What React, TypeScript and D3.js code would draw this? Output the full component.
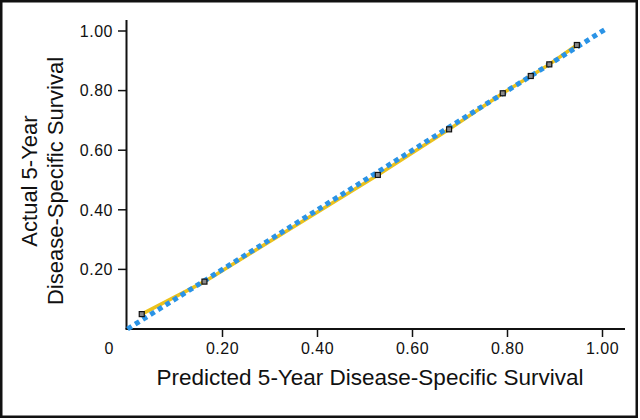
import React from "react";
import * as d3 from "d3";

const predicted = [0.03, 0.162, 0.527, 0.677, 0.79, 0.849, 0.888, 0.946];
const actual = [0.05, 0.159, 0.517, 0.67, 0.791, 0.849, 0.888, 0.953];
const tickValues = [0.2, 0.4, 0.6, 0.8, 1.0];
const refLine = [0, 1.01];
const xTitle = "Predicted 5-Year Disease-Specific Survival";
const yTitle = ["Actual 5-Year", "Disease-Specific Survival"];

const W = 640;
const H = 420;
const FONT = "'Liberation Sans', Arial, Helvetica, sans-serif";

export default function App() {
  const x = d3.scaleLinear().domain([0, 1]).range([127.5, 602.5]);
  const y = d3.scaleLinear().domain([0, 1]).range([329, 31]);
  const pts = predicted.map((p, i) => [p, actual[i]] as [number, number]);
  const line = d3
    .line<[number, number]>()
    .x((d) => x(d[0]))
    .y((d) => y(d[1]));
  const ref = refLine.map((v) => [v, v] as [number, number]);
  const fmt = d3.format(".2f");

  return (
    <svg
      width={W}
      height={H}
      style={{ position: "absolute", left: 0, top: 0, background: "#fff" }}
      fontFamily={FONT}
    >
      <rect x={1.25} y={1.25} width={635.5} height={415.5} fill="#fff" stroke="#111" strokeWidth={2.5} />
      {/* axes */}
      <line x1={126.5} x2={126.5} y1={y(0)} y2={20} stroke="#111" strokeWidth={2} />
      <line x1={125.5} x2={625} y1={y(0)} y2={y(0)} stroke="#111" strokeWidth={2} />
      {tickValues.map((t) => (
        <g key={"y" + t}>
          <line x1={118} x2={126.5} y1={y(t)} y2={y(t)} stroke="#111" strokeWidth={1.5} />
          <text x={113} y={y(t)} dy="0.36em" textAnchor="end" fontSize={16} letterSpacing={0.5} fill="#111">
            {fmt(t)}
          </text>
        </g>
      ))}
      {tickValues.map((t) => (
        <g key={"x" + t}>
          <line x1={x(t)} x2={x(t)} y1={y(0)} y2={y(0) + 8} stroke="#111" strokeWidth={1.5} />
          <text x={x(t)} y={354} textAnchor="middle" fontSize={16} letterSpacing={0.5} fill="#111">
            {fmt(t)}
          </text>
        </g>
      ))}
      <text x={109} y={354} textAnchor="middle" fontSize={16} fill="#111">
        0
      </text>
      {/* titles */}
      <text x={370} y={385} textAnchor="middle" fontSize={22.5} fill="#111">
        {xTitle}
      </text>
      <g transform="translate(0,181) rotate(-90)">
        <text x={0} y={37} textAnchor="middle" fontSize={22} fill="#111">
          {yTitle[0]}
        </text>
        <text x={0} y={63} textAnchor="middle" fontSize={22} fill="#111">
          {yTitle[1]}
        </text>
      </g>
      {/* data */}
      <path d={line(pts) || ""} fill="none" stroke="#ecc21c" strokeWidth={3.5} />
      <path
        d={line(ref) || ""}
        fill="none"
        stroke="#2a93e6"
        strokeWidth={5}
        strokeDasharray="5 4"
      />
      {pts.map((d, i) => (
        <rect
          key={i}
          x={x(d[0]) - 2.5}
          y={y(d[1]) - 2.5}
          width={5}
          height={5}
          fill="#8a8a8a"
          stroke="#111"
          strokeWidth={1.2}
        />
      ))}
    </svg>
  );
}
